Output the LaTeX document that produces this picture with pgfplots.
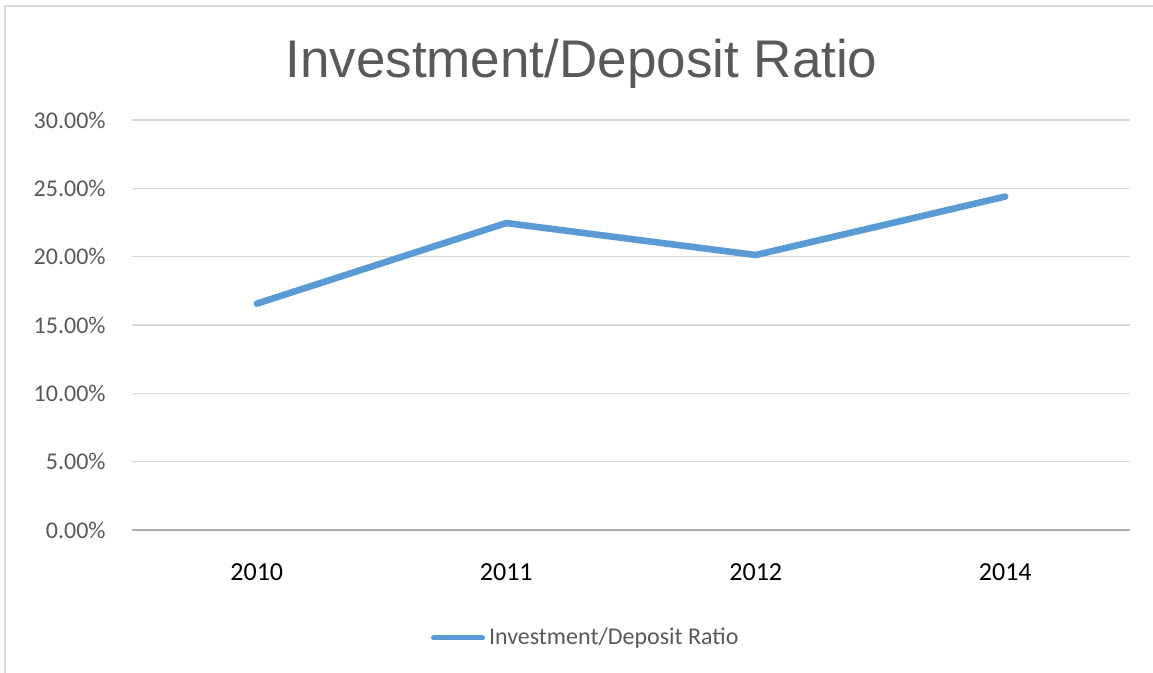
\documentclass[border=0pt]{standalone}
\usepackage{pgfplots}
\pgfplotsset{compat=1.18}
\usepackage{fontspec}
\setmainfont{Carlito}
\newfontfamily\titlefont{Liberation Sans}
\definecolor{linec}{HTML}{5B9BD5}
\definecolor{gridc}{HTML}{D9D9D9}
\definecolor{txtc}{HTML}{595959}
\definecolor{axc}{HTML}{ADADAD}
\begin{document}
\begin{tikzpicture}[x=0.5pt,y=0.5pt]
\useasboundingbox (0,0) rectangle (1153,673);
\draw[gridc, line width=1.2pt] (5,0) -- (5,667) -- (1153,667);
\node[anchor=base, text=txtc, inner sep=0pt, font=\titlefont\fontsize{26.5}{30}\selectfont] at (581.5,595) {Investment/Deposit Ratio};
\begin{axis}[
  at={(66pt,71.5pt)}, anchor=south west,
  scale only axis, width=499pt, height=205pt,
  xmin=-0.5, xmax=3.5, ymin=0, ymax=0.30,
  xtick={0,1,2,3}, xticklabels={2010,2011,2012,2014},
  ytick={0,0.05,0.1,0.15,0.2,0.25,0.3},
  yticklabels={0.00\%,5.00\%,10.00\%,15.00\%,20.00\%,25.00\%,30.00\%},
  axis x line*=bottom, axis y line*=left,
  y axis line style={draw=none},
  x axis line style={draw=axc, line width=0.9pt, -},
  major tick length=0pt, tick style={draw=none},
  ymajorgrids, grid style={draw=gridc, line width=0.8pt},
  xticklabel style={anchor=base, inner sep=0pt, yshift=-25.5pt, font=\fontsize{13}{15}\selectfont, text=black},
  yticklabel style={anchor=east, inner sep=0pt, xshift=-13pt, font=\fontsize{12}{14}\selectfont, text=txtc},
  legend style={at={(0.2996,-0.2634)}, anchor=west, draw=none, fill=none, inner sep=0pt, outer sep=0pt,
    nodes={inner sep=0pt}, column sep=2pt, font=\fontsize{12}{14}\selectfont, text=txtc},
  legend image code/.code={\draw[#1, line width=2.5pt] (1.25pt,0pt) -- (25.75pt,0pt);},
]
\addplot[linec, line width=3.3pt, line cap=round, line join=round] coordinates {(0,0.1656) (1,0.2246) (2,0.2012) (3,0.2440)};
\addlegendentry{Investment/Deposit Ratio}
\end{axis}
\end{tikzpicture}
\end{document}
